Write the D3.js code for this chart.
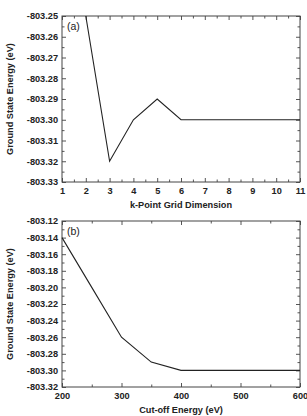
<!DOCTYPE html>
<html>
<head>
<meta charset="utf-8">
<script src="https://cdn.jsdelivr.net/npm/d3@7"></script>
<style>
body { margin: 0; background: #fff; }
text { font-family: "Liberation Sans", Arial, sans-serif; fill: #222; }
</style>
</head>
<body>
<script>
// panel (a): k-point convergence
var kPoints = [2, 3, 4, 5, 6, 7, 8, 9, 10, 11];
var kEnergy = [-803.25, -803.32, -803.30, -803.29, -803.30, -803.30, -803.30, -803.30, -803.30, -803.30];
var kTicksX = [1, 2, 3, 4, 5, 6, 7, 8, 9, 10, 11];
var kTicksY = [-803.25, -803.26, -803.27, -803.28, -803.29, -803.30, -803.31, -803.32, -803.33];

// panel (b): cut-off energy convergence
var cutoff = [200, 250, 300, 350, 400, 450, 500, 550, 600];
var cutEnergy = [-803.14, -803.20, -803.26, -803.29, -803.30, -803.30, -803.30, -803.30, -803.30];
var cTicksX = [200, 300, 400, 500, 600];
var cTicksY = [-803.12, -803.14, -803.16, -803.18, -803.20, -803.22, -803.24, -803.26, -803.28, -803.30, -803.32];

var svg = d3.select("body").append("svg")
    .attr("width", 307)
    .attr("height", 416);

function panel(opt) {
    var left = 62, right = 300;
    var x = d3.scaleLinear().domain(opt.xDomain).range([left, right]);
    var y = d3.scaleLinear().domain(opt.yDomain).range([opt.bottom, opt.top]);
    var g = svg.append("g");

    var clipId = "clip" + opt.name;
    g.append("clipPath").attr("id", clipId)
        .append("rect")
        .attr("x", left).attr("y", opt.top)
        .attr("width", right - left).attr("height", opt.bottom - opt.top);

    // minor ticks (half steps)
    var xMinor = [], yMinor = [];
    for (var i = 0; i < opt.xTicks.length - 1; i++) xMinor.push((opt.xTicks[i] + opt.xTicks[i + 1]) / 2);
    for (var j = 0; j < opt.yTicks.length - 1; j++) yMinor.push((opt.yTicks[j] + opt.yTicks[j + 1]) / 2);

    var tickCol = "#555";
    // bottom axis
    g.append("g").attr("transform", "translate(0," + opt.bottom + ")")
        .call(d3.axisBottom(x).tickValues(opt.xTicks).tickSize(-4).tickPadding(5).tickFormat(d3.format("d")))
        .call(function (a) {
            a.select(".domain").remove();
            a.selectAll("line").attr("stroke", tickCol);
            a.selectAll("text").attr("font-size", 9.2).attr("font-weight", "bold").attr("dy", "0.71em");
        });
    g.append("g").attr("transform", "translate(0," + opt.bottom + ")")
        .call(d3.axisBottom(x).tickValues(xMinor).tickSize(-2.5).tickFormat(""))
        .call(function (a) { a.select(".domain").remove(); a.selectAll("line").attr("stroke", tickCol); });
    // top axis
    g.append("g").attr("transform", "translate(0," + opt.top + ")")
        .call(d3.axisTop(x).tickValues(opt.xTicks).tickSize(-4).tickFormat(""))
        .call(function (a) { a.select(".domain").remove(); a.selectAll("line").attr("stroke", tickCol); });
    g.append("g").attr("transform", "translate(0," + opt.top + ")")
        .call(d3.axisTop(x).tickValues(xMinor).tickSize(-2.5).tickFormat(""))
        .call(function (a) { a.select(".domain").remove(); a.selectAll("line").attr("stroke", tickCol); });
    // left axis
    g.append("g").attr("transform", "translate(" + left + ",0)")
        .call(d3.axisLeft(y).tickValues(opt.yTicks).tickSize(-4).tickPadding(4).tickFormat(d3.format(".2f")))
        .call(function (a) {
            a.select(".domain").remove();
            a.selectAll("line").attr("stroke", tickCol);
            a.selectAll("text").attr("font-size", 9.2).attr("font-weight", "bold")
                .text(function (d) { return d.toFixed(2).replace("\u2212", "-"); });
        });
    g.append("g").attr("transform", "translate(" + left + ",0)")
        .call(d3.axisLeft(y).tickValues(yMinor).tickSize(-2.5).tickFormat(""))
        .call(function (a) { a.select(".domain").remove(); a.selectAll("line").attr("stroke", tickCol); });
    // right axis
    g.append("g").attr("transform", "translate(" + right + ",0)")
        .call(d3.axisRight(y).tickValues(opt.yTicks).tickSize(-4).tickFormat(""))
        .call(function (a) { a.select(".domain").remove(); a.selectAll("line").attr("stroke", tickCol); });
    g.append("g").attr("transform", "translate(" + right + ",0)")
        .call(d3.axisRight(y).tickValues(yMinor).tickSize(-2.5).tickFormat(""))
        .call(function (a) { a.select(".domain").remove(); a.selectAll("line").attr("stroke", tickCol); });

    // frame
    g.append("rect")
        .attr("x", left).attr("y", opt.top)
        .attr("width", right - left).attr("height", opt.bottom - opt.top)
        .attr("fill", "none").attr("stroke", "#444").attr("stroke-width", 1);

    // data line
    var line = d3.line()
        .x(function (d) { return x(d[0]); })
        .y(function (d) { return y(d[1]); });
    g.append("path")
        .datum(d3.zip(opt.xs, opt.ys))
        .attr("clip-path", "url(#" + clipId + ")")
        .attr("d", line)
        .attr("fill", "none")
        .attr("stroke", "#222")
        .attr("stroke-width", 1.1);

    // panel label
    g.append("text")
        .attr("x", left + 5).attr("y", opt.top + 14)
        .attr("font-size", 10.5)
        .text(opt.name);

    // axis titles
    g.append("text")
        .attr("x", (left + right) / 2).attr("y", opt.bottom + 26)
        .attr("text-anchor", "middle")
        .attr("font-size", 9.2).attr("font-weight", "bold")
        .text(opt.xTitle);
    g.append("text")
        .attr("transform", "translate(13," + ((opt.top + opt.bottom) / 2) + ") rotate(-90)")
        .attr("text-anchor", "middle")
        .attr("font-size", 9.2).attr("font-weight", "bold")
        .text("Ground State Energy (eV)");
}

panel({
    name: "(a)", top: 16, bottom: 182,
    xDomain: [1, 11], yDomain: [-803.33, -803.25],
    xTicks: kTicksX, yTicks: kTicksY,
    xs: kPoints, ys: kEnergy,
    xTitle: "k-Point Grid Dimension"
});

panel({
    name: "(b)", top: 221, bottom: 387,
    xDomain: [200, 600], yDomain: [-803.32, -803.12],
    xTicks: cTicksX, yTicks: cTicksY,
    xs: cutoff, ys: cutEnergy,
    xTitle: "Cut-off Energy (eV)"
});
</script>
</body>
</html>
